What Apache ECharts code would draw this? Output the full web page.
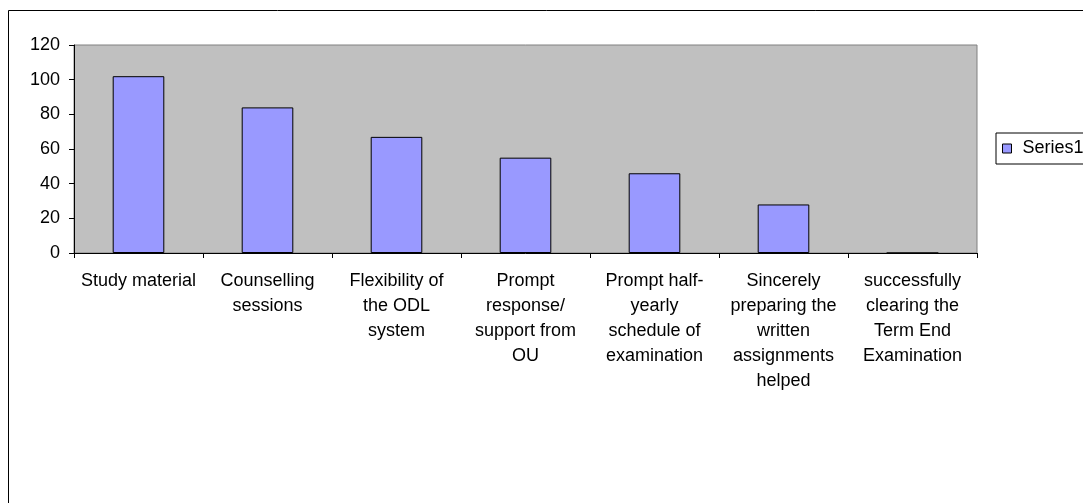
<!DOCTYPE html>
<html>
<head>
<meta charset="utf-8">
<script src="https://cdn.jsdelivr.net/npm/echarts@6/dist/echarts.min.js"></script>
<style>
html,body{margin:0;padding:0;background:#fff;}
#c{width:1083px;height:503px;}
</style>
</head>
<body>
<div id="c"></div>
<script>
const categories = [
  "Study material",
  "Counselling\nsessions",
  "Flexibility of\nthe ODL\nsystem",
  "Prompt\nresponse/\nsupport from\nOU",
  "Prompt half-\nyearly\nschedule of\nexamination",
  "Sincerely\npreparing the\nwritten\nassignments\nhelped",
  "successfully\nclearing the\nTerm End\nExamination"
];
const series1 = [102, 84, 67, 55, 46, 28, 0];
const yMin = 0, yMax = 120, yInterval = 20;

const FONT = "Liberation Sans";
const chart = echarts.init(document.getElementById('c'), null, {renderer: 'canvas'});
chart.setOption({
  animation: false,
  backgroundColor: '#ffffff',
  textStyle: {fontFamily: FONT, color: '#000'},
  graphic: [{
    type: 'rect',
    shape: {x: 8.5, y: 10.5, width: 1300, height: 700},
    style: {fill: 'none', stroke: '#000', lineWidth: 1},
    silent: true,
    z: 100
  }],
  grid: {
    left: 74, top: 45, width: 903, height: 208,
    show: true, backgroundColor: '#c0c0c0', borderColor: '#808080', borderWidth: 1
  },
  legend: {
    data: ['Series1'],
    left: 996, top: 133,
    orient: 'vertical',
    borderColor: '#000', borderWidth: 1, borderRadius: 0,
    padding: [6, 8, 6, 6],
    itemWidth: 9, itemHeight: 9, itemGap: 4,
    icon: 'rect',
    textStyle: {fontFamily: FONT, fontSize: 18, color: '#000', lineHeight: 19, padding: [0, 0, 0, 6]},
    itemStyle: {borderColor: '#000', borderWidth: 1}
  },
  xAxis: {
    type: 'category',
    data: categories,
    axisLine: {show: true, lineStyle: {color: '#000', width: 1}},
    axisTick: {show: true, length: 5, lineStyle: {color: '#000'}},
    axisLabel: {
      interval: 0, margin: 16, fontFamily: FONT, fontSize: 18, color: '#000',
      lineHeight: 25, align: 'center'
    },
    splitLine: {show: false}
  },
  yAxis: {
    type: 'value',
    min: yMin, max: yMax, interval: yInterval,
    axisLine: {show: true, lineStyle: {color: '#000', width: 1}},
    axisTick: {show: true, length: 5, lineStyle: {color: '#000'}},
    axisLabel: {margin: 14, fontFamily: FONT, fontSize: 18, color: '#000'},
    splitLine: {show: false}
  },
  series: [{
    name: 'Series1',
    type: 'bar',
    data: series1,
    barWidth: '40%',
    itemStyle: {color: '#9999ff', borderColor: '#000', borderWidth: 1}
  }]
});
</script>
</body>
</html>
